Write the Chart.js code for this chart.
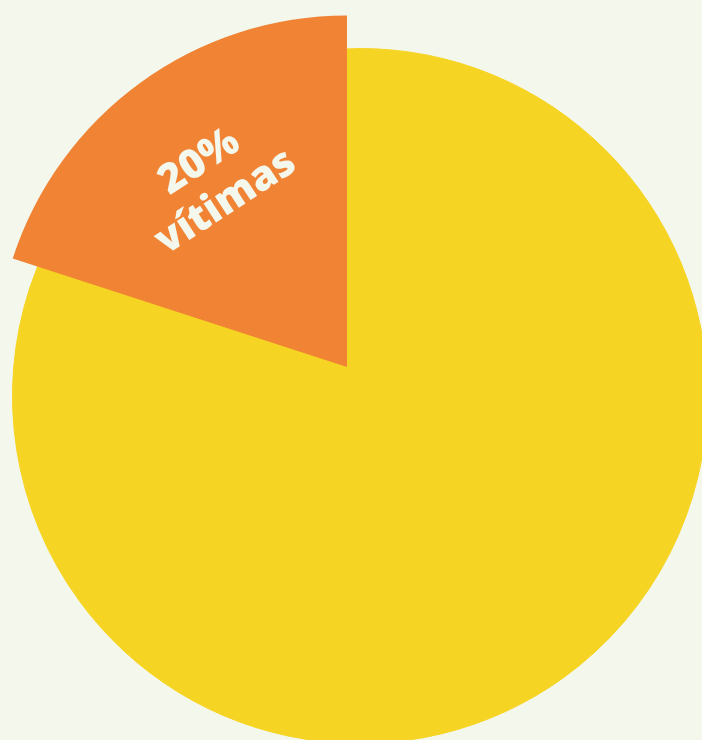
<!DOCTYPE html>
<html><head><meta charset="utf-8">
<script src="https://cdn.jsdelivr.net/npm/chart.js@4/dist/chart.umd.min.js"></script>
<style>
html,body{margin:0;padding:0;background:#f3f7ec;overflow:hidden;width:702px;height:740px;}
canvas{position:absolute;left:0;top:0;}
</style></head><body>
<canvas id="base" width="720" height="792"></canvas>
<canvas id="slice" width="694" height="734"></canvas>
<script>
// ---- data ----
const categories = ['outros', 'vítimas'];
const shares = [80, 20];
const highlightIndex = 1;

// ---- styles ----
const YELLOW = '#f6d423';
const ORANGE = '#f08334';
const TEXT = '#f3f7ec';

Chart.defaults.animation = false;

// Full circle (the whole 100%) drawn underneath
new Chart(document.getElementById('base'), {
  type: 'pie',
  data: {
    labels: categories,
    datasets: [{
      data: shares,
      backgroundColor: [YELLOW, YELLOW],
      borderColor: YELLOW,
      borderWidth: 1
    }]
  },
  options: {
    responsive: false,
    radius: 347.5,
    plugins: { legend: { display: false }, tooltip: { enabled: false } }
  }
});

// Exploded highlight slice on top
const sliceLabel = {
  id: 'sliceLabel',
  afterDatasetsDraw(chart) {
    const arc = chart.getDatasetMeta(0).data[highlightIndex];
    const p = arc.getProps(['x', 'y', 'startAngle', 'endAngle', 'outerRadius'], true);
    const mid = (p.startAngle + p.endAngle) / 2;
    const r = p.outerRadius * 0.65;
    const cx = p.x + Math.cos(mid) * r;
    const cy = p.y + Math.sin(mid) * r;
    const ctx = chart.ctx;
    ctx.save();
    ctx.translate(cx, cy);
    ctx.rotate(mid + Math.PI / 2 + 0.05);
    ctx.fillStyle = TEXT;
    ctx.font = '800 41px "Open Sans"';
    ctx.textAlign = 'center';
    ctx.textBaseline = 'middle';
    ctx.fillText(shares[highlightIndex] + '%', 0, -24);
    ctx.fillText(categories[highlightIndex], 0, 24);
    ctx.restore();
  }
};

new Chart(document.getElementById('slice'), {
  type: 'pie',
  data: {
    labels: categories,
    datasets: [{
      data: shares,
      backgroundColor: ['rgba(0,0,0,0)', ORANGE],
      borderWidth: 0
    }]
  },
  options: {
    responsive: false,
    radius: 351.5,
    plugins: { legend: { display: false }, tooltip: { enabled: false } }
  },
  plugins: [sliceLabel]
});
</script>
</body></html>
